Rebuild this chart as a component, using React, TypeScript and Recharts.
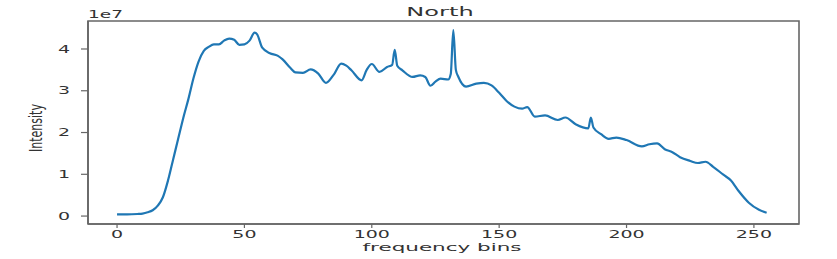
import { Line, LineChart, ReferenceArea, XAxis, YAxis } from "recharts";

// spectrum, values in units of 1e7
const BINS = [
  0, 4, 8, 10, 12, 14, 16, 18, 20, 22, 24, 26, 28, 30, 32, 34, 36, 38, 40, 42, 44, 46, 48, 50, 52, 54, 55, 57, 60,
  63, 65, 68, 70, 73, 76, 79, 82, 85, 88, 90, 92, 96, 98, 100, 103, 106, 108, 109, 110, 112, 116, 119, 121, 123,
  125, 127, 130, 131, 132, 133, 134, 137, 141, 144, 147, 150, 153, 156, 159, 161, 164, 168, 173, 176, 180, 185,
  186, 187, 190, 193, 196, 200, 206, 209, 212, 215, 218, 221, 225, 228, 231, 234, 238, 241, 244, 248, 252, 255,
];
const INTENSITY_E7 = [
  0.04, 0.04, 0.05, 0.06, 0.09, 0.14, 0.25, 0.45, 0.85, 1.35, 1.85, 2.35, 2.8, 3.3, 3.7, 3.95, 4.05, 4.11, 4.11,
  4.2, 4.25, 4.22, 4.1, 4.11, 4.2, 4.39, 4.35, 4.03, 3.9, 3.84, 3.75, 3.55, 3.44, 3.43, 3.51, 3.41, 3.19, 3.38,
  3.65, 3.6, 3.49, 3.25, 3.5, 3.64, 3.45, 3.57, 3.62, 3.98, 3.6, 3.49, 3.33, 3.37, 3.33, 3.12, 3.22, 3.29, 3.27,
  3.4, 4.45, 3.5, 3.33, 3.1, 3.17, 3.19, 3.13, 2.95, 2.75, 2.62, 2.57, 2.61, 2.38, 2.41, 2.3, 2.36, 2.2, 2.1,
  2.36, 2.12, 1.96, 1.85, 1.88, 1.82, 1.67, 1.72, 1.74, 1.6, 1.53, 1.41, 1.32, 1.27, 1.3, 1.18, 0.99, 0.85, 0.6,
  0.32, 0.15, 0.08,
];
const X_TICKS = [0, 50, 100, 150, 200, 250];
const Y_TICKS = [0, 1, 2, 3, 4];

const X_DOMAIN: [number, number] = [-11.4, 267.7];
const Y_DOMAIN: [number, number] = [-0.19, 4.67];

const data = BINS.map((bin, i) => ({ bin, value: INTENSITY_E7[i] }));

const FONT = "'DejaVu Sans', sans-serif";
const TEXT = "#333";
const SPINE = "#666";
const LINE = "#1f77b4";

function StretchTick(props: any) {
  const { x, y, payload, anchor, dy } = props;
  return (
    <g transform={`translate(${x},${y})`}>
      <text transform="scale(1.9,1)" textAnchor={anchor} dy={dy} fontSize={10} fill={TEXT} fontFamily={FONT}>
        {payload.value}
      </text>
    </g>
  );
}

export default function App() {
  return (
    <div style={{ position: "absolute", left: 0, top: 0, width: 837, height: 259, background: "#fff" }}>
      <LineChart width={837} height={259} data={data} margin={{ top: 21, right: 38, left: 0, bottom: 0 }}>
        <XAxis
          type="number"
          dataKey="bin"
          domain={X_DOMAIN}
          ticks={X_TICKS}
          allowDataOverflow
          height={35}
          tickSize={4}
          tickMargin={3}
          axisLine={{ stroke: SPINE, strokeWidth: 1.6 }}
          tickLine={{ stroke: SPINE, strokeWidth: 1.2 }}
          tick={<StretchTick anchor="middle" dy="0.71em" />}
        />
        <YAxis
          type="number"
          domain={Y_DOMAIN}
          ticks={Y_TICKS}
          allowDataOverflow
          width={88}
          tickSize={7}
          tickMargin={11}
          axisLine={{ stroke: SPINE, strokeWidth: 1.6 }}
          tickLine={{ stroke: SPINE, strokeWidth: 1.2 }}
          tick={<StretchTick anchor="end" dy="0.355em" />}
        />
        <Line
          type="monotone"
          dataKey="value"
          stroke={LINE}
          strokeWidth={2.2}
          dot={false}
          isAnimationActive={false}
        />
        <ReferenceArea
          x1={X_DOMAIN[0]}
          x2={X_DOMAIN[1]}
          y1={Y_DOMAIN[0]}
          y2={Y_DOMAIN[1]}
          fill="none"
          stroke={SPINE}
          strokeWidth={1.6}
        />
        <text transform="translate(440,16) scale(1.85,1)" textAnchor="middle" fontSize={13} fill={TEXT} fontFamily={FONT}>
          North
        </text>
        <text transform="translate(88,18) scale(1.85,1)" textAnchor="start" fontSize={10} fill={TEXT} fontFamily={FONT}>
          1e7
        </text>
        <text transform="translate(442,251) scale(2.15,1)" textAnchor="middle" fontSize={10} fill={TEXT} fontFamily={FONT}>
          frequency bins
        </text>
        <text
          transform="translate(42,128) scale(1.6,1) rotate(-90)"
          textAnchor="middle"
          fontSize={11}
          fill={TEXT}
          fontFamily={FONT}
        >
          Intensity
        </text>
      </LineChart>
    </div>
  );
}
